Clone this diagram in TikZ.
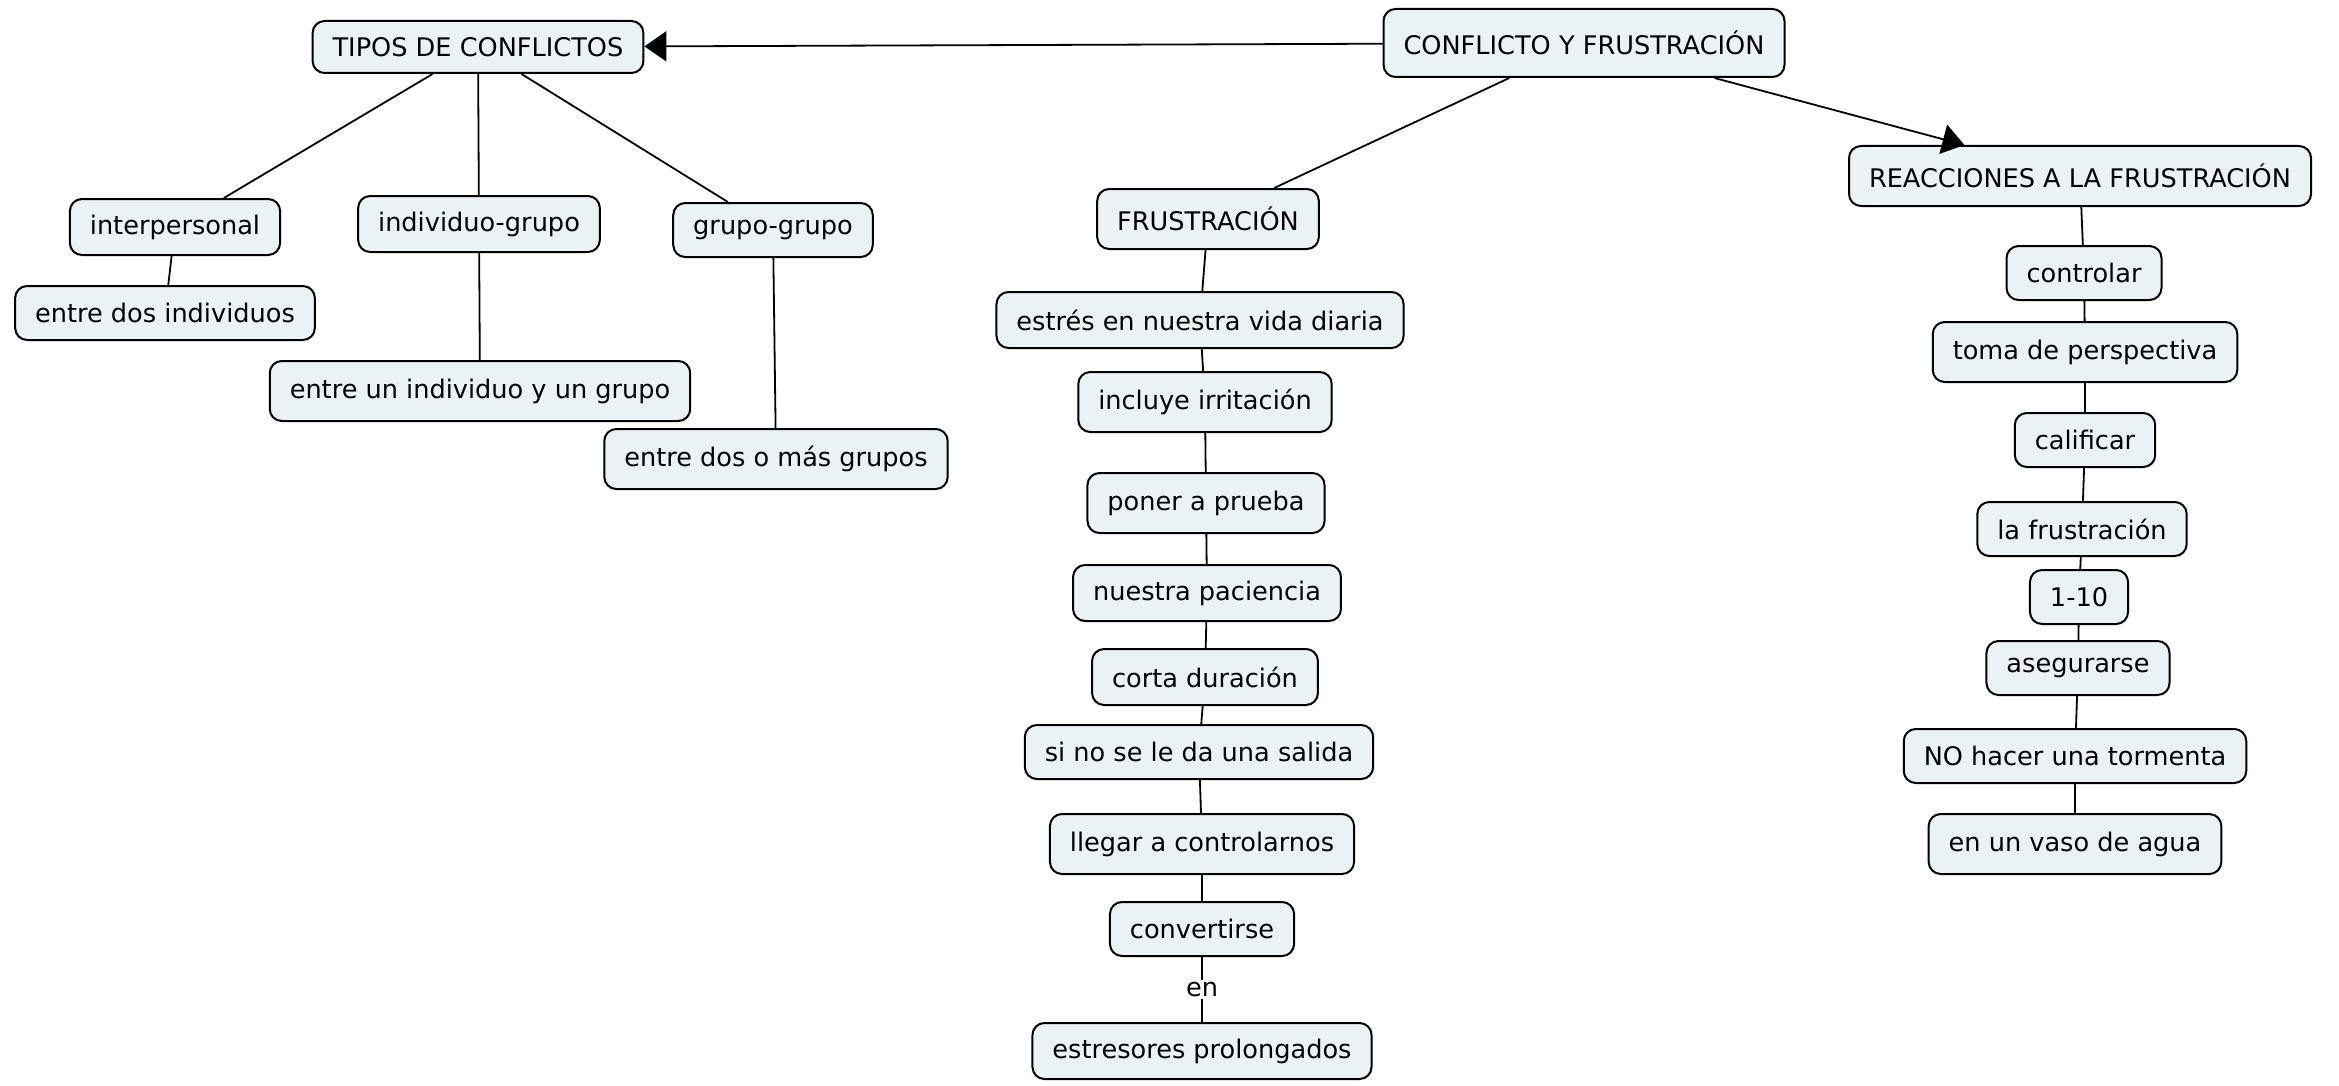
\documentclass[tikz,border=0pt]{standalone}
\usepackage{fontspec}
\setmainfont{DejaVu Sans}
\usetikzlibrary{arrows.meta}

\definecolor{cmapfill}{HTML}{EBF2F5}
\tikzset{
  concept/.style={draw, line width=1pt, rounded corners=6pt, fill=cmapfill,
    inner xsep=10pt, minimum height=28pt, font=\fontsize{12.8}{14}\selectfont},
  link/.style={line width=0.9pt},
  linkarrow/.style={link, -{Triangle[length=11pt,width=15pt]}},
}

\begin{document}
\begin{tikzpicture}[x=0.5pt,y=-0.5pt]
  \useasboundingbox (0,0) rectangle (2339,1086);
  % main concept and its three branches
  \node[concept, minimum height=34pt] (conflicto) at (1584,43) {CONFLICTO Y FRUSTRACIÓN};
  \node[concept, minimum height=26pt] (tipos) at (478,47) {TIPOS DE CONFLICTOS};
  \node[concept, minimum height=30pt] (frus) at (1208,219) {FRUSTRACIÓN};
  \node[concept, minimum height=30pt] (reacc) at (2080,176) {REACCIONES A LA FRUSTRACIÓN};

  % tipos de conflictos
  \node[concept] (interp) at (175,227) {interpersonal};
  \node[concept] (indgrupo) at (479,224) {individuo-grupo};
  \node[concept, minimum height=27pt] (grupo) at (773,230) {grupo-grupo};
  \node[concept, minimum height=27pt] (dosind) at (165,313) {entre dos individuos};
  \node[concept, minimum height=30pt] (unind) at (480,391) {entre un individuo y un grupo};
  \node[concept, minimum height=30pt] (dosgrupos) at (776,459) {entre dos o más grupos};

  % frustracion
  \node[concept] (estres) at (1200,320) {estrés en nuestra vida diaria};
  \node[concept, minimum height=30pt] (irrit) at (1205,402) {incluye irritación};
  \node[concept, minimum height=30pt] (prueba) at (1206,503) {poner a prueba};
  \node[concept] (pacien) at (1207,593) {nuestra paciencia};
  \node[concept] (corta) at (1205,677) {corta duración};
  \node[concept, minimum height=27pt] (salida) at (1199,752) {si no se le da una salida};
  \node[concept, minimum height=30pt] (llegar) at (1202,844) {llegar a controlarnos};
  \node[concept, minimum height=27pt] (convert) at (1202,929) {convertirse};
  \node[concept] (prolong) at (1202,1051) {estresores prolongados};

  % reacciones
  \node[concept, minimum height=27pt] (control) at (2084,273) {controlar};
  \node[concept, minimum height=30pt] (toma) at (2085,352) {toma de perspectiva};
  \node[concept, minimum height=27pt] (calif) at (2085,440) {calificar};
  \node[concept, minimum height=27pt] (lafrus) at (2082,529) {la frustración};
  \node[concept, minimum height=27pt] (escala) at (2079,597) {1-10};
  \node[concept, minimum height=27pt] (asegur) at (2078,668) {asegurarse};
  \node[concept, minimum height=27pt] (tormenta) at (2075,756) {NO hacer una tormenta};
  \node[concept, minimum height=30pt] (vaso) at (2075,844) {en un vaso de agua};

  % connectors
  \draw[linkarrow] (conflicto) -- (tipos);
  \draw[link] (conflicto) -- (frus);
  \draw[linkarrow] (conflicto) -- (reacc);

  \draw[link] (tipos) -- (interp);
  \draw[link] (tipos) -- (indgrupo);
  \draw[link] (tipos) -- (grupo);
  \draw[link] (interp) -- (dosind);
  \draw[link] (indgrupo) -- (unind);
  \draw[link] (grupo) -- (dosgrupos);

  \draw[link] (frus) -- (estres) -- (irrit) -- (prueba) -- (pacien) -- (corta)
    -- (salida) -- (llegar) -- (convert);
  \draw[link] (convert) -- node[fill=white, inner sep=1pt,
    font=\fontsize{12.8}{14}\selectfont] (en) {en} (prolong);

  \draw[link] (reacc) -- (control) -- (toma) -- (calif) -- (lafrus) -- (escala)
    -- (asegur) -- (tormenta) -- (vaso);
\end{tikzpicture}
\end{document}
